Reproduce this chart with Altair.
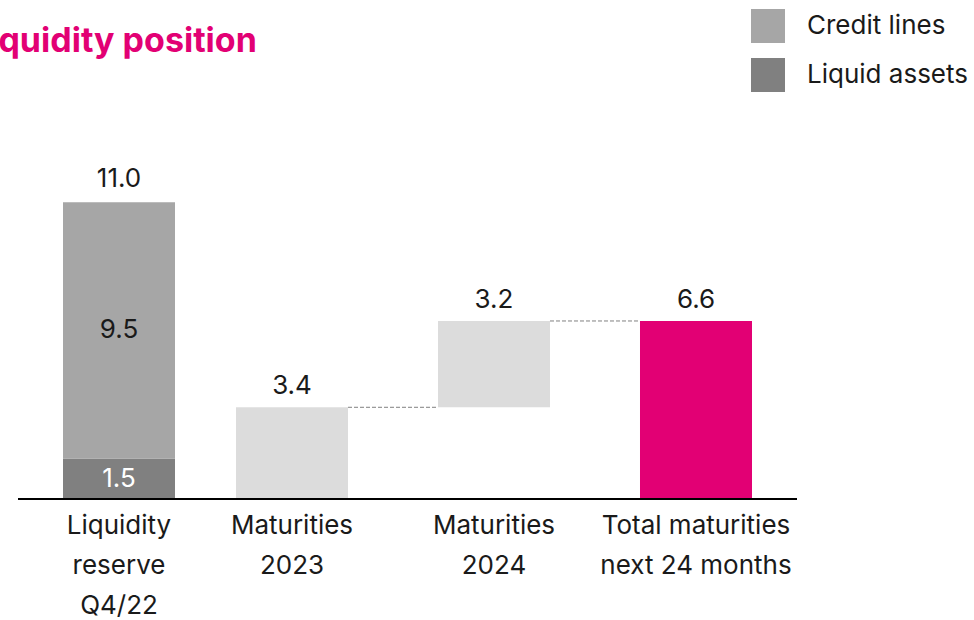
import altair as alt
import pandas as pd

# Categories along the x axis (line breaks mark the label wrapping)
categories = [
    "Liquidity reserve Q4/22",
    "Maturities 2023",
    "Maturities 2024",
    "Total maturities next 24 months",
]
category_lines = [
    "Liquidity\nreserve\nQ4/22",
    "Maturities\n2023",
    "Maturities\n2024",
    "Total maturities\nnext 24 months",
]

# Liquidity reserve components (EUR bn)
reserve_components = ["Liquid assets", "Credit lines"]
reserve_values = [1.5, 9.5]
reserve_total = 11.0

# Maturities (EUR bn)
maturity_categories = ["Maturities 2023", "Maturities 2024"]
maturity_values = [3.4, 3.2]
total_maturities = 6.6

FONT = "Inter"
INK = "#1a1a1a"
MAGENTA = "#e20074"
RESERVE_SHIFT = 29
HALF_BAR = 56

# Stacked reserve bar
reserve_df = pd.DataFrame({
    "category": categories[0],
    "component": reserve_components,
    "value": reserve_values,
})
reserve_df["end"] = reserve_df["value"].cumsum()
reserve_df["start"] = reserve_df["end"] - reserve_df["value"]
reserve_df["mid"] = (reserve_df["start"] + reserve_df["end"]) / 2
reserve_df["label"] = reserve_df["value"].map(lambda v: f"{v:.1f}")

# Waterfall of maturities
mat_df = pd.DataFrame({"category": maturity_categories, "value": maturity_values})
mat_df["end"] = mat_df["value"].cumsum()
mat_df["start"] = mat_df["end"] - mat_df["value"]
mat_df["label"] = mat_df["value"].map(lambda v: f"{v:.1f}")

total_df = pd.DataFrame({
    "category": [categories[3]],
    "start": [0.0],
    "end": [total_maturities],
    "label": [f"{total_maturities:.1f}"],
})

reserve_top_df = pd.DataFrame({
    "category": [categories[0]],
    "end": [reserve_total],
    "label": [f"{reserve_total:.1f}"],
})

# Dashed connectors between successive waterfall steps
conn_df = pd.DataFrame({
    "from": [categories[1], categories[2]],
    "to": [categories[2], categories[3]],
    "level": [mat_df["end"].iloc[0], mat_df["end"].iloc[1]],
})

cat_df = pd.DataFrame({"category": categories, "text": category_lines})

x_scale = alt.Scale(domain=categories, paddingInner=0.4455, paddingOuter=0)
y_scale = alt.Scale(domain=[0, 18.5], nice=False)
X = alt.X("category:N", scale=x_scale, axis=None)

connectors = alt.Chart(conn_df).mark_rule(
    color="#808080", strokeWidth=1, strokeDash=[4, 2],
    xOffset=HALF_BAR, x2Offset=-HALF_BAR,
).encode(
    x=alt.X("from:N", scale=x_scale, axis=None),
    x2="to:N",
    y=alt.Y("level:Q", scale=y_scale, axis=None),
)

reserve_bars = alt.Chart(reserve_df).mark_bar(xOffset=RESERVE_SHIFT).encode(
    x=X,
    y=alt.Y("start:Q", scale=y_scale, axis=None),
    y2="end:Q",
    color=alt.Color(
        "component:N",
        scale=alt.Scale(domain=["Credit lines", "Liquid assets"],
                        range=["#a6a6a6", "#808080"]),
        legend=alt.Legend(
            title=None,
            orient="none",
            legendX=717,
            legendY=9,
            symbolType="square",
            symbolSize=1156,
            symbolStrokeWidth=0,
            symbolOpacity=1,
            labelFont=FONT,
            labelFontSize=26,
            labelColor=INK,
            labelOffset=22,
            labelLimit=400,
            rowPadding=15,
        ),
    ),
)

mat_bars = alt.Chart(mat_df).mark_bar(color="#dcdcdc").encode(
    x=X,
    y=alt.Y("start:Q", scale=y_scale, axis=None),
    y2="end:Q",
)

total_bar = alt.Chart(total_df).mark_bar(color=MAGENTA).encode(
    x=X,
    y=alt.Y("start:Q", scale=y_scale, axis=None),
    y2="end:Q",
)

text_style = dict(font=FONT, fontSize=26, color=INK)

reserve_top_label = alt.Chart(reserve_top_df).mark_text(
    baseline="alphabetic", dy=-15, xOffset=RESERVE_SHIFT, **text_style
).encode(x=X, y=alt.Y("end:Q", scale=y_scale, axis=None), text="label:N")

inner_labels = alt.Chart(reserve_df).mark_text(
    baseline="middle", xOffset=RESERVE_SHIFT, font=FONT, fontSize=26
).encode(
    x=X,
    y=alt.Y("mid:Q", scale=y_scale, axis=None),
    text="label:N",
    color=alt.Color(
        "component:N",
        scale=alt.Scale(domain=["Credit lines", "Liquid assets"],
                        range=[INK, "#ffffff"]),
        legend=None,
    ),
)

mat_labels = alt.Chart(mat_df).mark_text(
    baseline="alphabetic", dy=-13, **text_style
).encode(x=X, y=alt.Y("end:Q", scale=y_scale, axis=None), text="label:N")

total_label = alt.Chart(total_df).mark_text(
    baseline="alphabetic", dy=-13, **text_style
).encode(x=X, y=alt.Y("end:Q", scale=y_scale, axis=None), text="label:N")

# Category names below the baseline; the reserve label follows its shifted bar
cat_labels_reserve = alt.Chart(cat_df.iloc[[0]]).mark_text(
    baseline="top", lineBreak="\n", lineHeight=40, align="center",
    xOffset=RESERVE_SHIFT, **text_style
).encode(x=X, y=alt.value(513), text="text:N")

cat_labels_rest = alt.Chart(cat_df.iloc[1:]).mark_text(
    baseline="top", lineBreak="\n", lineHeight=40, align="center", **text_style
).encode(x=X, y=alt.value(513), text="text:N")

baseline = alt.Chart(pd.DataFrame({"v": [0]})).mark_rule(
    color="#000000", strokeWidth=2
).encode(
    x=alt.value(-16),
    x2=alt.value(763),
    y=alt.Y("v:Q", scale=y_scale, axis=None),
)

title = alt.Chart(pd.DataFrame({"t": ["Liquidity position"]})).mark_text(
    align="left", baseline="alphabetic", font=FONT, fontSize=34,
    fontWeight="bold", color=MAGENTA,
).encode(x=alt.value(-64), y=alt.value(52), text="t:N")

chart = alt.layer(
    connectors,
    reserve_bars,
    mat_bars,
    total_bar,
    reserve_top_label,
    inner_labels,
    mat_labels,
    total_label,
    cat_labels_reserve,
    cat_labels_rest,
    baseline,
    title,
).resolve_scale(color="independent").properties(
    width=718,
    height=499,
    background="#ffffff",
    padding={"left": 34, "top": 0, "right": 222, "bottom": 121},
    autosize=alt.AutoSizeParams(type="none"),
).configure_view(stroke=None)

chart.save("out.html", embed_options={"renderer": "svg", "actions": False})
